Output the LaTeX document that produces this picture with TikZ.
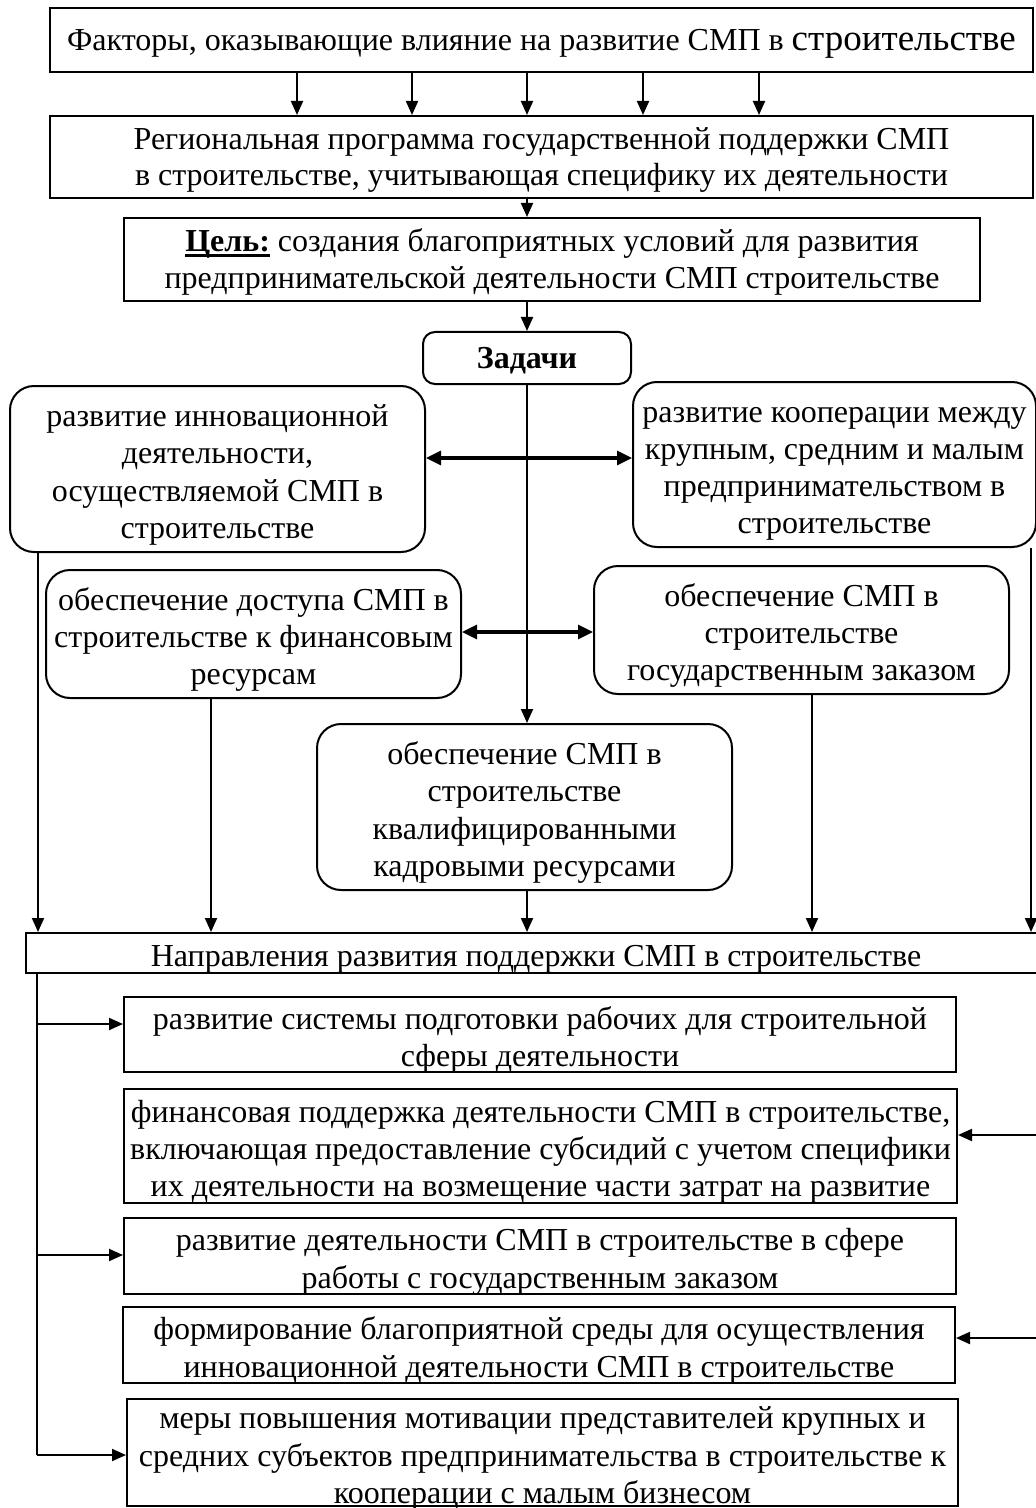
\documentclass[tikz,border=0pt]{standalone}
\usepackage{fontspec}
\setmainfont{Liberation Serif}
\usetikzlibrary{arrows.meta,calc}
\newcommand\thickul[1]{\setbox0\hbox{#1}\rlap{\rule[-2.8pt]{\wd0}{1.3pt}}\box0\relax}
\newcommand\hs{\rule{0pt}{18.5pt}}
\newcommand\hsb{\rule{0pt}{15.5pt}}
\newcommand\ds{\rule[-5pt]{0pt}{5pt}}
\tikzset{
  box/.style={draw, line width=1pt, inner xsep=0pt, inner ysep=-14pt, align=center,
    font=\fontsize{16}{18.6}\selectfont},
  rbox/.style={box, rounded corners=12pt},
  arr/.style={line width=1pt, -{Triangle[length=7pt,width=6pt]}},
  darr/.style={line width=1.6pt, {Triangle[length=7.5pt,width=7pt]}-{Triangle[length=7.5pt,width=7pt]}},
  ln/.style={line width=1pt}
}
\begin{document}
\begin{tikzpicture}[x=0.5pt,y=-0.5pt]
\useasboundingbox (0,0) rectangle (1036,1508);
% top boxes
\node[box, minimum width=491.5pt, minimum height=32pt] (b1) at (541.5,40)
  {\hsb Факторы, оказывающие влияние на развитие СМП в {\fontsize{18.5}{18.6}\selectfont строительстве}\ds};
\node[box, minimum width=491.5pt, minimum height=41pt, font=\fontsize{16}{17.8}\selectfont] (b2) at (541.5,157)
  {\hsb Региональная программа государственной поддержки СМП\\в строительстве, учитывающая специфику их деятельности\ds};
\node[box, minimum width=428pt, minimum height=41.5pt] (b3) at (552,259.5)
  {\hsb\thickul{\textbf{Цель:}} создания благоприятных условий для развития\\предпринимательской деятельности СМП строительстве\ds};
\node[rbox, rounded corners=6pt, minimum width=104pt, minimum height=26pt] (zad) at (527,358)
  {\hsb\textbf{Задачи}\ds};
% task boxes
\node[rbox, minimum width=207.5pt, minimum height=83pt] (lt) at (217.5,469)
  {\hs развитие инновационной\\деятельности,\\осуществляемой СМП в\\строительстве\ds};
\node[rbox, minimum width=201.5pt, minimum height=82.5pt] (rt) at (834.5,464.5)
  {\hs развитие кооперации между\\крупным, средним и малым\\предпринимательством в\\строительстве\ds};
\node[rbox, minimum width=207.5pt, minimum height=64pt] (ml) at (253.5,634)
  {\hs обеспечение доступа СМП в\\строительстве к финансовым\\ресурсам\ds};
\node[rbox, minimum width=207.5pt, minimum height=64pt] (mr) at (801.5,630)
  {\hs обеспечение СМП в\\строительстве\\государственным заказом\ds};
\node[rbox, minimum width=207.5pt, minimum height=83pt] (cb) at (524.5,807)
  {\hs обеспечение СМП в\\строительстве\\квалифицированными\\кадровыми ресурсами\ds};
% directions
\node[box, minimum width=510pt, minimum height=20pt] (napr) at (536,953)
  {\hs Направления развития поддержки СМП в строительстве\ds};
\node[box, minimum width=416pt, minimum height=37.5pt] (s1) at (540,1034.5)
  {\hs развитие системы подготовки рабочих для строительной\\сферы деятельности\ds};
\node[box, minimum width=416.5pt, minimum height=57pt] (s2) at (540.5,1146)
  {\hs финансовая поддержка деятельности СМП в строительстве,\\включающая предоставление субсидий с учетом специфики\\их деятельности на возмещение части затрат на развитие\ds};
\node[box, minimum width=416pt, minimum height=38pt] (s3) at (540,1256)
  {\hs развитие деятельности СМП в строительстве в сфере\\работы с государственным заказом\ds};
\node[box, minimum width=416pt, minimum height=38pt] (s4) at (539,1345)
  {\hs формирование благоприятной среды для осуществления\\инновационной деятельности СМП в строительстве\ds};
\node[box, minimum width=415.5pt, minimum height=53.5pt] (s5) at (542.5,1452.5)
  {\hs меры повышения мотивации представителей крупных и\\средних субъектов предпринимательства в строительстве к\\кооперации с малым бизнесом\ds};
% connectors top
\foreach \xx in {297,412,527,643,759}
  \draw[arr] (\xx,0 |- b1.south) -- (\xx,0 |- b2.north);
\draw[arr] (527,0 |- b2.south) -- (527,0 |- b3.north);
\draw[arr] (527,0 |- b3.south) -- (527,0 |- zad.north);
\draw[arr] (zad.south) -- (zad.south |- cb.north);
\draw[darr] (lt.east |- 0,458) -- (rt.west |- 0,458);
\draw[darr] (ml.east |- 0,632) -- (mr.west |- 0,632);
% into directions
\draw[arr] (38,0 |- lt.south) -- (38,0 |- napr.north);
\draw[arr] (211,0 |- ml.south) -- (211,0 |- napr.north);
\draw[arr] (527,0 |- cb.south) -- (527,0 |- napr.north);
\draw[arr] (812,0 |- mr.south) -- (812,0 |- napr.north);
\draw[arr] (1031,0 |- rt.south) -- (1031,0 |- napr.north);
% left bus
\coordinate (busend) at (37,1455);
\draw[ln] (37,0 |- napr.south) -- (busend);
\draw[arr] (37,1024) -- (s1.west |- 0,1024);
\draw[arr] (37,1255) -- (s3.west |- 0,1255);
\draw[arr] (busend) -- (s5.west |- busend);
% right feeds
\coordinate (r1) at (1036,1135);
\coordinate (r2) at (1036,1338);
\draw[arr] (r1) -- (s2.east |- r1);
\draw[arr] (r2) -- (s4.east |- r2);
\end{tikzpicture}
\end{document}
